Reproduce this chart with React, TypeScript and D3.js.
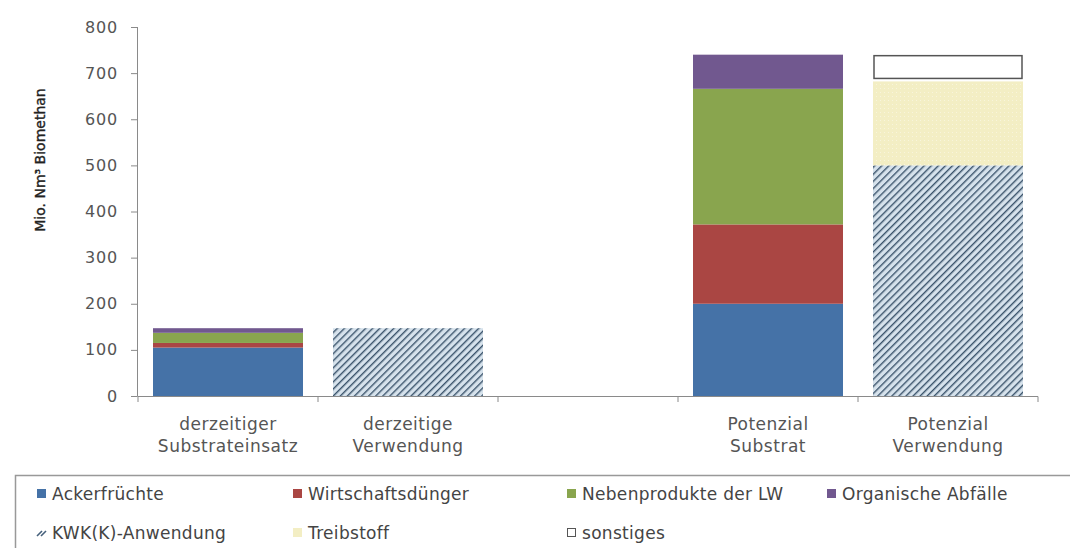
import React from "react";
import * as d3 from "d3";

const categories = ["cat1", "cat2", "cat3", "cat4", "cat5"];
const categoryLabels: string[][] = [
  ["derzeitiger", "Substrateinsatz"],
  ["derzeitige", "Verwendung"],
  [],
  ["Potenzial", "Substrat"],
  ["Potenzial", "Verwendung"],
];

const seriesKeys = ["acker", "wirt", "neben", "org", "kwk", "treib", "sonst"];
const seriesNames = [
  "Ackerfrüchte",
  "Wirtschaftsdünger",
  "Nebenprodukte der LW",
  "Organische Abfälle",
  "KWK(K)-Anwendung",
  "Treibstoff",
  "sonstiges",
];
const ackerfruechte = [105, 0, 0, 200, 0];
const wirtschaftsduenger = [10, 0, 0, 172, 0];
const nebenprodukte = [22, 0, 0, 294, 0];
const organischeAbfaelle = [10, 0, 0, 74, 0];
const kwkAnwendung = [0, 147, 0, 0, 500];
const treibstoff = [0, 0, 0, 0, 182];
const sonstiges = [0, 0, 0, 0, 58];

const yTicks = [0, 100, 200, 300, 400, 500, 600, 700, 800];

const seriesValues = [
  ackerfruechte,
  wirtschaftsduenger,
  nebenprodukte,
  organischeAbfaelle,
  kwkAnwendung,
  treibstoff,
  sonstiges,
];

const fills: Record<string, string> = {
  acker: "#4572A7",
  wirt: "#AA4643",
  neben: "#89A54E",
  org: "#71588F",
  kwk: "url(#hatch)",
  treib: "url(#treib)",
  sonst: "#ffffff",
};

const FONT = "'DejaVu Sans', sans-serif";

export default function App() {
  const W = 1070;
  const H = 548;
  const x = d3
    .scaleBand<string>()
    .domain(categories)
    .range([138, 1038])
    .paddingInner(1 / 6)
    .paddingOuter(1 / 12);
  const y = d3.scaleLinear().domain([0, 800]).range([396, 27]);

  const table = categories.map((c, i) => {
    const row: any = { cat: c };
    seriesKeys.forEach((k, j) => (row[k] = seriesValues[j][i]));
    return row;
  });
  const stacked = d3.stack().keys(seriesKeys)(table as any);

  const legendPos = [
    [37, 494],
    [293, 494],
    [567, 494],
    [827, 494],
    [37, 533],
    [293, 533],
    [567, 533],
  ];

  return (
    <svg width={W} height={H} style={{ position: "absolute", left: 0, top: 0, background: "#fff" }}>
      <defs>
        <pattern id="hatch" patternUnits="userSpaceOnUse" width={5} height={5} patternTransform="rotate(45)">
          <rect width={5} height={5} fill="#D6E2EC" />
          <line x1={0} y1={0} x2={0} y2={5} stroke="#3A536B" strokeWidth={2.8} />
        </pattern>
        <pattern id="treib" patternUnits="userSpaceOnUse" width={4} height={4}>
          <rect width={4} height={4} fill="#F3EEC4" />
          <rect width={1} height={1} fill="#F8F5DC" />
        </pattern>
      </defs>

      {/* y axis title */}
      <text
        transform="translate(45,160) rotate(-90)"
        textAnchor="middle"
        fontFamily={FONT}
        fontSize={14}
        fill="#222"
        stroke="#222"
        strokeWidth={0.35}
      >
        Mio. Nm³ Biomethan
      </text>

      {/* y axis */}
      <line x1={137.5} x2={137.5} y1={y(800)} y2={y(0)} stroke="#8a8a8a" strokeWidth={1} />
      {yTicks.map((t) => (
        <g key={t}>
          <line x1={131} x2={137.5} y1={y(t) + 0.5} y2={y(t) + 0.5} stroke="#8a8a8a" />
          <text
            x={118}
            y={y(t)}
            dy="0.35em"
            textAnchor="end"
            fontFamily={FONT}
            fontSize={16}
            letterSpacing={0.8}
            fill="#555"
          >
            {t}
          </text>
        </g>
      ))}

      {/* bars */}
      {stacked.map((s) => (
        <g key={s.key}>
          {s.map((d, i) => {
            const v = d[1] - d[0];
            if (v <= 0) return null;
            const bx = x(categories[i])!;
            const bw = x.bandwidth();
            const top = y(d[1]);
            const h = y(d[0]) - y(d[1]);
            if (s.key === "sonst") {
              return (
                <rect
                  key={i}
                  x={bx + 1}
                  y={top + 1}
                  width={bw - 2}
                  height={h - 4}
                  fill="#fff"
                  stroke="#555"
                  strokeWidth={1.5}
                />
              );
            }
            return <rect key={i} x={bx} y={top} width={bw} height={h} fill={fills[s.key]} />;
          })}
        </g>
      ))}

      {/* x axis */}
      <line x1={137.5} x2={1038} y1={396.5} y2={396.5} stroke="#8a8a8a" />
      {categories.map((c, i) => (
        <line
          key={"t" + i}
          x1={x(c)! - (x.step() - x.bandwidth()) / 2}
          x2={x(c)! - (x.step() - x.bandwidth()) / 2}
          y1={396.5}
          y2={402}
          stroke="#8a8a8a"
        />
      ))}
      <line x1={1038} x2={1038} y1={396.5} y2={402} stroke="#8a8a8a" />
      {categories.map((c, i) =>
        categoryLabels[i].map((line, j) => (
          <text
            key={c + j}
            x={x(c)! + x.bandwidth() / 2}
            y={430 + j * 22}
            textAnchor="middle"
            fontFamily={FONT}
            fontSize={17}
            letterSpacing={0.5}
            fill="#555"
          >
            {line}
          </text>
        ))
      )}

      {/* legend */}
      <rect x={15.5} y={475.5} width={1070} height={100} fill="none" stroke="#999" strokeWidth={1.5} />
      {seriesKeys.map((k, i) => {
        const [lx, ly] = legendPos[i];
        let marker;
        if (k === "sonst") {
          marker = <rect x={lx + 0.5} y={ly - 4.5} width={8} height={8} fill="#fff" stroke="#555" strokeWidth={1} />;
        } else if (k === "kwk") {
          marker = (
            <g stroke="#45607B" strokeWidth={1.6}>
              <line x1={lx} y1={ly + 3} x2={lx + 5} y2={ly - 2} />
              <line x1={lx + 4} y1={ly + 3} x2={lx + 9} y2={ly - 2} />
            </g>
          );
        } else {
          marker = <rect x={lx} y={ly - 5} width={9} height={9} fill={k === "treib" ? "#F3EEC4" : fills[k]} />;
        }
        return (
          <g key={k}>
            {marker}
            <text
              x={lx + 15}
              y={ly}
              dy="0.35em"
              fontFamily={FONT}
              fontSize={17}
              letterSpacing={0.3}
              fill="#444"
            >
              {seriesNames[i]}
            </text>
          </g>
        );
      })}
    </svg>
  );
}
